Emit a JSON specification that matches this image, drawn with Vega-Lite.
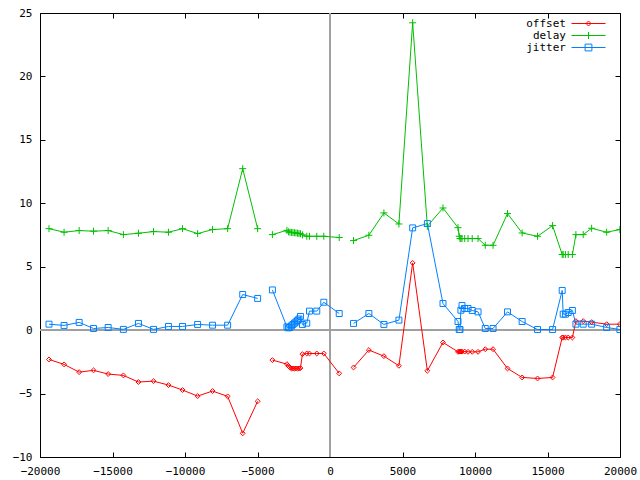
{
  "$schema": "https://vega.github.io/schema/vega-lite/v6.json",
  "width": 580,
  "height": 444,
  "autosize": {"type": "none"},
  "padding": {"left": 40, "top": 13, "right": 20, "bottom": 23},
  "background": "white",
  "config": {
    "view": {"stroke": "black", "strokeWidth": 1},
    "axis": {
      "domain": false, "grid": false, "ticks": true, "tickColor": "black", "tickWidth": 1,
      "tickSize": -5, "labelFont": "DejaVu Sans Mono", "labelFontSize": 11, "labelColor": "black",
      "title": null
    },
    "legend": {
      "labelFont": "DejaVu Sans Mono", "labelFontSize": 11, "labelColor": "black"
    }
  },
  "resolve": {"axis": {"x": "independent", "y": "independent"}},
  "data": {"values": [
    {"t": -19380, "offset": -2.31, "delay": 8.0, "jitter": 0.47, "seg": 1},
    {"t": -18340, "offset": -2.70, "delay": 7.72, "jitter": 0.37, "seg": 1},
    {"t": -17300, "offset": -3.31, "delay": 7.85, "jitter": 0.61, "seg": 1},
    {"t": -16310, "offset": -3.17, "delay": 7.80, "jitter": 0.13, "seg": 1},
    {"t": -15300, "offset": -3.46, "delay": 7.85, "jitter": 0.21, "seg": 1},
    {"t": -14250, "offset": -3.57, "delay": 7.53, "jitter": 0.06, "seg": 1},
    {"t": -13210, "offset": -4.09, "delay": 7.64, "jitter": 0.53, "seg": 1},
    {"t": -12170, "offset": -4.02, "delay": 7.77, "jitter": 0.06, "seg": 1},
    {"t": -11140, "offset": -4.33, "delay": 7.72, "jitter": 0.29, "seg": 1},
    {"t": -10170, "offset": -4.72, "delay": 8.0, "jitter": 0.29, "seg": 1},
    {"t": -9130, "offset": -5.20, "delay": 7.61, "jitter": 0.45, "seg": 1},
    {"t": -8100, "offset": -4.80, "delay": 7.93, "jitter": 0.39, "seg": 1},
    {"t": -7060, "offset": -5.22, "delay": 8.0, "jitter": 0.39, "seg": 1},
    {"t": -6020, "offset": -8.13, "delay": 12.73, "jitter": 2.81, "seg": 1},
    {"t": -4990, "offset": -5.61, "delay": 8.0, "jitter": 2.50, "seg": 1},
    {"t": -3972, "offset": -2.36, "delay": 7.53, "jitter": 3.17, "seg": 2},
    {"t": -2970, "offset": -2.68, "delay": 7.87, "jitter": 0.26, "seg": 2},
    {"t": -2867, "offset": -2.83, "delay": 7.75, "jitter": 0.18, "seg": 2},
    {"t": -2763, "offset": -2.94, "delay": 7.72, "jitter": 0.21, "seg": 2},
    {"t": -2660, "offset": -3.02, "delay": 7.70, "jitter": 0.34, "seg": 2},
    {"t": -2556, "offset": -3.02, "delay": 7.69, "jitter": 0.45, "seg": 2},
    {"t": -2452, "offset": -3.02, "delay": 7.68, "jitter": 0.55, "seg": 2},
    {"t": -2349, "offset": -3.02, "delay": 7.66, "jitter": 0.65, "seg": 2},
    {"t": -2245, "offset": -3.02, "delay": 7.64, "jitter": 0.75, "seg": 2},
    {"t": -2141, "offset": -3.02, "delay": 7.62, "jitter": 0.88, "seg": 2},
    {"t": -2038, "offset": -2.99, "delay": 7.60, "jitter": 1.08, "seg": 2},
    {"t": -1900, "offset": -1.89, "delay": 7.51, "jitter": 0.45, "seg": 2},
    {"t": -1603, "offset": -1.84, "delay": 7.40, "jitter": 0.55, "seg": 2},
    {"t": -1416, "offset": -1.84, "delay": 7.40, "jitter": 1.50, "seg": 2},
    {"t": -912, "offset": -1.84, "delay": 7.40, "jitter": 1.50, "seg": 2},
    {"t": -428, "offset": -1.84, "delay": 7.40, "jitter": 2.20, "seg": 2},
    {"t": 636, "offset": -3.41, "delay": 7.30, "jitter": 1.31, "seg": 2},
    {"t": 1623, "offset": -2.94, "delay": 7.06, "jitter": 0.53, "seg": 3},
    {"t": 2680, "offset": -1.57, "delay": 7.48, "jitter": 1.31, "seg": 3},
    {"t": 3717, "offset": -2.05, "delay": 9.24, "jitter": 0.45, "seg": 3},
    {"t": 4753, "offset": -2.81, "delay": 8.37, "jitter": 0.79, "seg": 3},
    {"t": 5700, "offset": 5.30, "delay": 24.23, "jitter": 8.06, "seg": 3},
    {"t": 6714, "offset": -3.20, "delay": 8.19, "jitter": 8.40, "seg": 3},
    {"t": 7792, "offset": -0.97, "delay": 9.63, "jitter": 2.10, "seg": 3},
    {"t": 8828, "offset": -1.71, "delay": 8.08, "jitter": 0.68, "seg": 3},
    {"t": 8911, "offset": -1.69, "delay": 7.40, "jitter": 0.05, "seg": 3},
    {"t": 8966, "offset": -1.69, "delay": 7.22, "jitter": 0.05, "seg": 3},
    {"t": 9028, "offset": -1.69, "delay": 7.22, "jitter": 1.57, "seg": 3},
    {"t": 9104, "offset": -1.69, "delay": 7.22, "jitter": 1.94, "seg": 3},
    {"t": 9290, "offset": -1.69, "delay": 7.22, "jitter": 1.71, "seg": 3},
    {"t": 9519, "offset": -1.71, "delay": 7.22, "jitter": 1.71, "seg": 3},
    {"t": 9809, "offset": -1.71, "delay": 7.22, "jitter": 1.55, "seg": 3},
    {"t": 10210, "offset": -1.71, "delay": 7.22, "jitter": 1.44, "seg": 3},
    {"t": 10707, "offset": -1.50, "delay": 6.69, "jitter": 0.13, "seg": 3},
    {"t": 11246, "offset": -1.50, "delay": 6.69, "jitter": 0.13, "seg": 3},
    {"t": 12241, "offset": -3.02, "delay": 9.19, "jitter": 1.44, "seg": 3},
    {"t": 13250, "offset": -3.73, "delay": 7.66, "jitter": 0.68, "seg": 3},
    {"t": 14313, "offset": -3.81, "delay": 7.40, "jitter": 0.05, "seg": 3},
    {"t": 15350, "offset": -3.73, "delay": 8.24, "jitter": 0.05, "seg": 3},
    {"t": 16013, "offset": -0.58, "delay": 5.96, "jitter": 3.13, "seg": 3},
    {"t": 16082, "offset": -0.58, "delay": 5.96, "jitter": 1.26, "seg": 3},
    {"t": 16234, "offset": -0.58, "delay": 5.96, "jitter": 1.26, "seg": 3},
    {"t": 16427, "offset": -0.58, "delay": 5.96, "jitter": 1.39, "seg": 3},
    {"t": 16717, "offset": -0.58, "delay": 5.96, "jitter": 1.55, "seg": 3},
    {"t": 16959, "offset": 0.71, "delay": 7.53, "jitter": 0.47, "seg": 3},
    {"t": 17463, "offset": 0.71, "delay": 7.53, "jitter": 0.47, "seg": 3},
    {"t": 18044, "offset": 0.63, "delay": 8.03, "jitter": 0.47, "seg": 3},
    {"t": 19080, "offset": 0.47, "delay": 7.72, "jitter": 0.21, "seg": 3},
    {"t": 19990, "offset": 0.47, "delay": 7.93, "jitter": 0.05, "seg": 3}
  ]},
  "layer": [
    {
      "mark": {"type": "rule", "color": "#a0a0a0", "strokeWidth": 1},
      "encoding": {"x": {"datum": 0, "type": "quantitative", "scale": {"domain": [-20000, 20000], "nice": false, "zero": false}, "axis": null}}
    },
    {
      "mark": {"type": "rule", "color": "#a0a0a0", "strokeWidth": 1},
      "encoding": {"y": {"datum": 0, "type": "quantitative", "scale": {"domain": [-10, 25], "nice": false, "zero": false}, "axis": null}}
    },
    {
      "transform": [{"fold": ["offset", "delay", "jitter"], "as": ["series", "value"]}],
      "mark": {"type": "line", "strokeWidth": 1, "clip": true},
      "encoding": {
        "x": {"field": "t", "type": "quantitative", "scale": {"domain": [-20000, 20000], "nice": false, "zero": false},
              "axis": {"orient": "bottom", "values": [-20000, -15000, -10000, -5000, 0, 5000, 10000, 15000, 20000], "format": "d", "labelPadding": 13, "labelFlush": false}},
        "y": {"field": "value", "type": "quantitative", "scale": {"domain": [-10, 25], "nice": false, "zero": false},
              "axis": {"orient": "left", "values": [-10, -5, 0, 5, 10, 15, 20, 25], "format": "d", "labelPadding": 13}},
        "color": {"field": "series", "type": "nominal",
                  "scale": {"domain": ["offset", "delay", "jitter"], "range": ["#ff0000", "#00c000", "#0080ff"]},
                  "legend": {
                    "title": null, "orient": "none", "legendX": 543, "legendY": 5, "direction": "vertical",
                    "symbolType": "stroke", "symbolSize": 64, "symbolStrokeWidth": 1,
                    "labelAlign": "right", "labelOffset": -28, "rowPadding": 0, "padding": 0,
                    "encode": {"symbols": {"update": {"shape": {"signal": "datum.value === 'offset' ? 'M-4.25,0L4.25,0M0,-0.625L0.625,0L0,0.625L-0.625,0Z' : datum.value === 'delay' ? 'M-4.25,0L4.25,0M0,-0.875L0,0.875' : 'M-4.25,0L4.25,0M-0.85,-0.85L0.85,-0.85L0.85,0.85L-0.85,0.85Z'"}}}}
                  }},
        "detail": [{"field": "series"}, {"field": "seg"}]
      }
    },
    {
      "mark": {"type": "point", "filled": false, "strokeWidth": 1, "size": 49, "opacity": 1, "clip": true, "color": "#ff0000", "shape": "M0,-0.7L0.7,0L0,0.7L-0.7,0Z"},
      "encoding": {
        "x": {"field": "t", "type": "quantitative",
              "axis": {"orient": "top", "values": [-20000, -15000, -10000, -5000, 0, 5000, 10000, 15000, 20000], "labels": false}},
        "y": {"field": "offset", "type": "quantitative",
              "axis": {"orient": "right", "values": [-10, -5, 0, 5, 10, 15, 20, 25], "labels": false}}
      }
    },
    {
      "mark": {"type": "point", "filled": false, "strokeWidth": 1, "size": 49, "opacity": 1, "clip": true, "color": "#00c000", "shape": "M-1,0L1,0M0,-1L0,1"},
      "encoding": {
        "x": {"field": "t", "type": "quantitative", "axis": null},
        "y": {"field": "delay", "type": "quantitative", "axis": null}
      }
    },
    {
      "mark": {"type": "point", "filled": false, "strokeWidth": 1, "size": 49, "opacity": 1, "clip": true, "color": "#0080ff", "shape": "M-0.85,-0.85L0.85,-0.85L0.85,0.85L-0.85,0.85Z"},
      "encoding": {
        "x": {"field": "t", "type": "quantitative", "axis": null},
        "y": {"field": "jitter", "type": "quantitative", "axis": null}
      }
    }
  ]
}
